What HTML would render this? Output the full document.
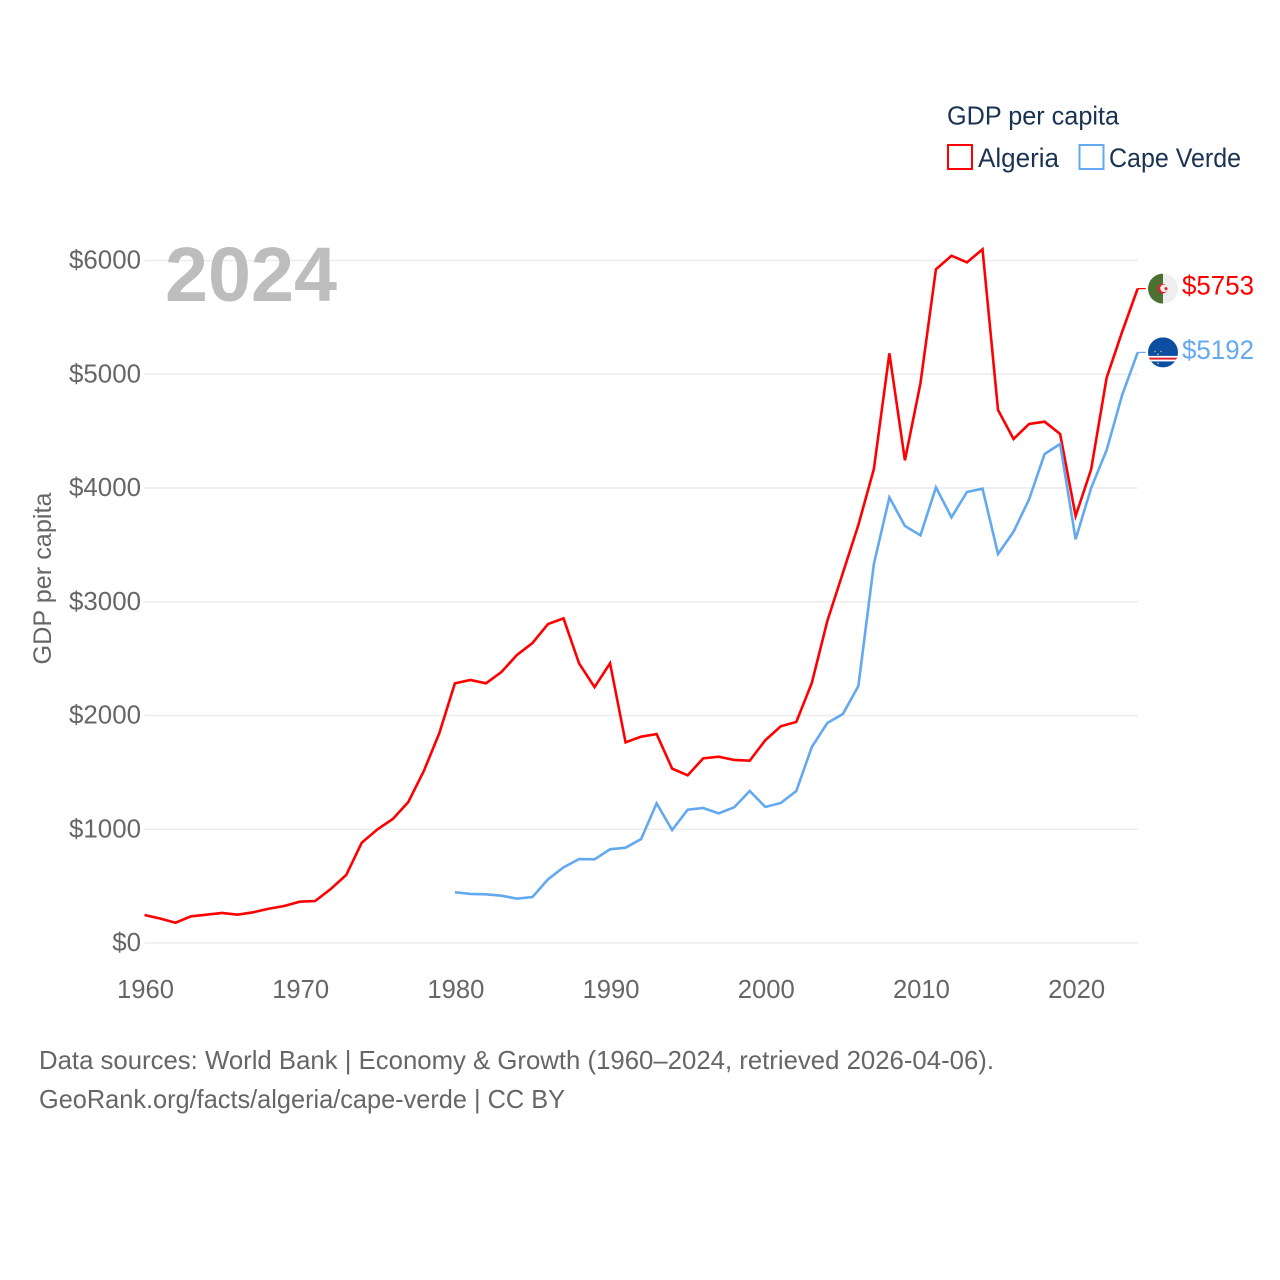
<!DOCTYPE html>
<html lang="en">
<head>
<meta charset="utf-8">
<title>GDP per capita: Algeria and Cape Verde</title>
<style>
html,body{margin:0;padding:0;background:#fff;width:1280px;height:1280px;overflow:hidden}
svg{display:block}
text{font-family:"Liberation Sans",sans-serif}
</style>
</head>
<body>
<svg id="chart" width="1280" height="1280" viewBox="0 0 1280 1280" xmlns="http://www.w3.org/2000/svg">
  <defs>
    <clipPath id="clip-dz"><circle cx="0" cy="0" r="15"/></clipPath>
    <clipPath id="clip-cv"><circle cx="0" cy="0" r="15"/></clipPath>
  </defs>
  <rect width="1280" height="1280" fill="#fff"/>
  <g id="grid"></g>
  <g id="yticks"></g>
  <g id="xticks"></g>
  <text id="year-label" x="165" y="301" font-size="77" font-weight="700" fill="#bdbdbd" textLength="172" lengthAdjust="spacingAndGlyphs"></text>
  <text transform="translate(51,578.5) rotate(-90)" text-anchor="middle" font-size="25" fill="#666" textLength="172" lengthAdjust="spacingAndGlyphs">GDP per capita</text>
  <g>
    <text x="947" y="124.5" font-size="26" fill="#1a3353" textLength="172" lengthAdjust="spacingAndGlyphs">GDP per capita</text>
    <g>
      <rect x="948" y="145" width="24" height="24" fill="none" stroke="#ff0000" stroke-width="2"/>
      <text x="978" y="167" font-size="27" fill="#1a3353" textLength="81" lengthAdjust="spacingAndGlyphs">Algeria</text>
    </g>
    <g>
      <rect x="1079.5" y="145" width="24" height="24" fill="none" stroke="#63a9ef" stroke-width="2"/>
      <text x="1109" y="167" font-size="27" fill="#1a3353" textLength="132" lengthAdjust="spacingAndGlyphs">Cape Verde</text>
    </g>
  </g>
  <path id="line-algeria" fill="none" stroke="#ff0000" stroke-width="2.6" stroke-linejoin="miter"/>
  <path id="line-cape-verde" fill="none" stroke="#63a9ef" stroke-width="2.6" stroke-linejoin="miter"/>
  <path id="connector-algeria" fill="none" stroke="#ff0000" stroke-width="1.2"/>
  <path id="connector-cape-verde" fill="none" stroke="#63a9ef" stroke-width="1.2"/>
  <g id="flag-algeria">
    <g clip-path="url(#clip-dz)">
      <rect x="-15" y="-15" width="15" height="30" fill="#4c7031"/>
      <rect x="0" y="-15" width="15" height="30" fill="#eeeeee"/>
      <circle cx="-0.5" cy="0" r="5" fill="#e0202a"/>
      <circle cx="1" cy="-0.3" r="3.8" fill="#eeeeee"/>
      <circle cx="3" cy="0" r="1.5" fill="#e0202a"/>
    </g>
  </g>
  <g id="flag-cape-verde">
    <g clip-path="url(#clip-cv)">
      <rect x="-15" y="-15" width="30" height="30" fill="#0b4ea2"/>
      <rect x="-15" y="3.5" width="30" height="5.5" fill="#fff"/>
      <rect x="-15" y="5.2" width="30" height="2" fill="#d8232a"/>
      <circle cx="-5" cy="2" r="0.9" fill="#c9b66a"/>
      <circle cx="-2" cy="-1" r="0.8" fill="#c9b66a"/>
      <circle cx="-8" cy="-1" r="0.8" fill="#c9b66a"/>
      <circle cx="-5" cy="11" r="0.9" fill="#e8b45a"/>
    </g>
  </g>
  <text id="value-algeria" x="1182" font-size="27" fill="#ff0000" textLength="72" lengthAdjust="spacingAndGlyphs"></text>
  <text id="value-cape-verde" x="1182" font-size="27" fill="#63a9ef" textLength="72" lengthAdjust="spacingAndGlyphs"></text>
  <g>
    <text x="39" y="1069" font-size="26" fill="#666" textLength="955" lengthAdjust="spacingAndGlyphs">Data sources: World Bank | Economy &amp; Growth (1960–2024, retrieved 2026-04-06).</text>
    <text x="39" y="1108" font-size="26" fill="#666" textLength="526" lengthAdjust="spacingAndGlyphs">GeoRank.org/facts/algeria/cape-verde | CC BY</text>
  </g>
</svg>
<script>
const years = [1960,1961,1962,1963,1964,1965,1966,1967,1968,1969,1970,1971,1972,1973,1974,1975,1976,1977,1978,1979,1980,1981,1982,1983,1984,1985,1986,1987,1988,1989,1990,1991,1992,1993,1994,1995,1996,1997,1998,1999,2000,2001,2002,2003,2004,2005,2006,2007,2008,2009,2010,2011,2012,2013,2014,2015,2016,2017,2018,2019,2020,2021,2022,2023,2024];
const algeria = [246,215,178,235,249,264,249,270,301,325,363,369,475,598,882,998,1090,1240,1512,1846,2283,2312,2283,2382,2532,2637,2804,2854,2459,2250,2459,1764,1814,1837,1533,1474,1623,1638,1609,1603,1782,1905,1943,2286,2831,3253,3675,4167,5184,4243,4920,5923,6042,5984,6098,4686,4431,4563,4583,4475,3754,4164,4970,5374,5753];
const capeVerde = [null,null,null,null,null,null,null,null,null,null,null,null,null,null,null,null,null,null,null,null,446,431,428,416,390,404,560,665,738,736,824,838,914,1228,993,1172,1187,1140,1193,1336,1196,1231,1336,1723,1934,2013,2259,3332,3918,3666,3584,4006,3742,3965,3994,3420,3616,3900,4299,4387,3549,4000,4334,4818,5192];
const yTickValues = [0,1000,2000,3000,4000,5000,6000];
const xTickValues = [1960,1970,1980,1990,2000,2010,2020];

const SVGNS = 'http://www.w3.org/2000/svg';
const xLeft = 144.5, xRight = 1137.7, yZero = 943, yTop = 260.5, yTopValue = 6000;
const xScale = function (year) { return xLeft + (year - years[0]) * (xRight - xLeft) / (years[years.length - 1] - years[0]); };
const yScale = function (value) { return yZero - value * (yZero - yTop) / yTopValue; };

const gridGroup = document.getElementById('grid');
const yGroup = document.getElementById('yticks');
const xGroup = document.getElementById('xticks');

yTickValues.forEach(function (v) {
  const line = document.createElementNS(SVGNS, 'line');
  
  
  line.setAttribute('x1', xLeft);
  line.setAttribute('x2', xRight);
  line.setAttribute('y1', yScale(v));
  line.setAttribute('y2', yScale(v));
  line.setAttribute('stroke', '#ececec');
  line.setAttribute('stroke-width', '1.5');
  gridGroup.appendChild(line);

  const label = document.createElementNS(SVGNS, 'text');
  const str = '$' + v;
  
  
  label.setAttribute('x', 141);
  label.setAttribute('y', yScale(v) + 8);
  label.setAttribute('text-anchor', 'end');
  label.setAttribute('font-size', '26');
  label.setAttribute('fill', '#666');
  label.setAttribute('textLength', str.length * 14.4);
  label.setAttribute('lengthAdjust', 'spacingAndGlyphs');
  label.textContent = str;
  yGroup.appendChild(label);
});

xTickValues.forEach(function (y) {
  const label = document.createElementNS(SVGNS, 'text');
  
  
  label.setAttribute('x', xScale(y) + 1);
  label.setAttribute('y', 998);
  label.setAttribute('text-anchor', 'middle');
  label.setAttribute('font-size', '26');
  label.setAttribute('fill', '#666');
  label.setAttribute('textLength', '57');
  label.setAttribute('lengthAdjust', 'spacingAndGlyphs');
  label.textContent = String(y);
  xGroup.appendChild(label);
});

function linePath(series) {
  let d = '';
  let pen = false;
  series.forEach(function (v, i) {
    if (v === null) { pen = false; return; }
    d += (pen ? 'L' : 'M') + xScale(years[i]).toFixed(2) + ' ' + yScale(v).toFixed(2);
    pen = true;
  });
  return d;
}

function drawSeries(series, key, labelOffset) {
  const last = series[series.length - 1];
  const lx = xScale(years[years.length - 1]);
  const ly = yScale(last);
  document.getElementById('line-' + key).setAttribute('d', linePath(series));
  document.getElementById('connector-' + key).setAttribute('d', 'M' + lx + ' ' + ly + 'H' + (lx + 8));
  document.getElementById('flag-' + key).setAttribute('transform', 'translate(1163,' + ly + ')');
  const value = document.getElementById('value-' + key);
  value.setAttribute('y', ly + labelOffset);
  value.textContent = '$' + last;
}

drawSeries(algeria, 'algeria', 6);
drawSeries(capeVerde, 'cape-verde', 6.5);
document.getElementById('year-label').textContent = String(years[years.length - 1]);
</script>
</body>
</html>
